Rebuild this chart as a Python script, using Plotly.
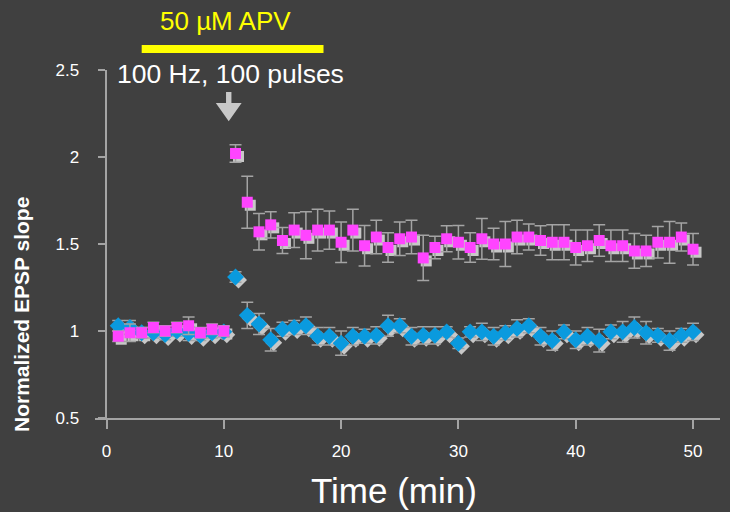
import plotly.graph_objects as go

# ---------------- data ----------------
time_min = [1, 2, 3, 4, 5, 6, 7, 8, 9, 10,
            11, 12, 13, 14, 15, 16, 17, 18, 19, 20,
            21, 22, 23, 24, 25, 26, 27, 28, 29, 30,
            31, 32, 33, 34, 35, 36, 37, 38, 39, 40,
            41, 42, 43, 44, 45, 46, 47, 48, 49, 50]

magenta_vals = [0.97, 0.99, 0.99, 1.02, 1.00, 1.02, 1.03, 0.99, 1.01, 1.00,
                2.02, 1.74, 1.57, 1.61, 1.52, 1.58, 1.55, 1.58, 1.58, 1.51,
                1.58, 1.49, 1.54, 1.48, 1.53, 1.54, 1.42, 1.48, 1.53, 1.51,
                1.48, 1.53, 1.50, 1.50, 1.54, 1.54, 1.52, 1.51, 1.51, 1.48,
                1.49, 1.52, 1.49, 1.49, 1.46, 1.46, 1.51, 1.51, 1.54, 1.47]
magenta_err = [0.03, 0.05, 0.03, 0.03, 0.03, 0.03, 0.05, 0.03, 0.03, 0.03,
               0.05, 0.15, 0.105, 0.075, 0.075, 0.10, 0.135, 0.12, 0.11, 0.117,
               0.12, 0.117, 0.096, 0.085, 0.096, 0.096, 0.13, 0.065, 0.075, 0.096,
               0.085, 0.117, 0.09, 0.13, 0.096, 0.075, 0.085, 0.10, 0.10, 0.10,
               0.09, 0.09, 0.09, 0.09, 0.10, 0.09, 0.09, 0.12, 0.08, 0.09]

blue_vals = [1.03, 1.02, 0.99, 0.99, 0.98, 1.00, 0.985, 0.975, 0.99, 0.995,
             1.31, 1.09, 1.04, 0.95, 1.01, 1.02, 1.03, 0.97, 0.97, 0.93,
             0.97, 0.97, 0.975, 1.03, 1.03, 0.97, 0.975, 0.975, 0.995, 0.93,
             0.995, 0.995, 0.97, 0.99, 1.015, 1.03, 0.97, 0.945, 0.995, 0.95,
             0.97, 0.945, 0.995, 0.995, 1.02, 0.99, 0.975, 0.945, 0.975, 0.995]
blue_err = [0.03, 0.04, 0.03, 0.03, 0.03, 0.03, 0.04, 0.03, 0.03, 0.03,
            0.03, 0.075, 0.06, 0.065, 0.04, 0.04, 0.05, 0.05, 0.05, 0.07,
            0.05, 0.04, 0.05, 0.06, 0.04, 0.05, 0.05, 0.05, 0.03, 0.03,
            0.03, 0.05, 0.05, 0.04, 0.05, 0.04, 0.05, 0.055, 0.04, 0.05,
            0.05, 0.065, 0.04, 0.06, 0.06, 0.065, 0.04, 0.055, 0.04, 0.05]

x_ticks = [0, 10, 20, 30, 40, 50]
y_ticks = [0.5, 1, 1.5, 2, 2.5]
y_tick_text = ["0.5", "1", "1.5", "2", "2.5"]

apv_start, apv_end = 3.0, 18.5      # drug application bar (min)
tetanus_t = 10.42                   # stimulation arrow (min)

# ---------------- layout constants ----------------
W, H = 730, 512
ML, MR, MT, MB = 95, 10, 70, 94
plot_w = W - ML - MR
plot_h = H - MT - MB
x_range = [-0.98, 52.3]
y_range = [0.5, 2.5]
px_per_x = plot_w / (x_range[1] - x_range[0])
px_per_y = plot_h / (y_range[1] - y_range[0])
shadow_dx = 3 / px_per_x
shadow_dy = 3 / px_per_y

BG = "#404040"
GREY = "#a4a4a4"
SHADOW = "#c8c8c8"
MAGENTA = "#ff44ff"
BLUE = "#0a9ade"
FONT = "Liberation Sans Narrow, Liberation Sans, Arial, sans-serif"

fig = go.Figure()

# shadows (shifted axes)
fig.add_trace(go.Scatter(x=time_min, y=blue_vals, mode="markers", xaxis="x2", yaxis="y2",
                         marker=dict(symbol="diamond", size=13, color=SHADOW), hoverinfo="skip",
                         showlegend=False))
fig.add_trace(go.Scatter(x=time_min, y=magenta_vals, mode="markers", xaxis="x2", yaxis="y2",
                         marker=dict(symbol="square", size=11, color=SHADOW), hoverinfo="skip",
                         showlegend=False))
# main series
fig.add_trace(go.Scatter(x=time_min, y=blue_vals, mode="markers", xaxis="x3", yaxis="y3",
                         marker=dict(symbol="diamond", size=13, color=BLUE),
                         error_y=dict(type="data", array=blue_err, color=GREY, thickness=1.5, width=6),
                         showlegend=False))
fig.add_trace(go.Scatter(x=time_min, y=magenta_vals, mode="markers", xaxis="x3", yaxis="y3",
                         marker=dict(symbol="square", size=11, color=MAGENTA),
                         error_y=dict(type="data", array=magenta_err, color=GREY, thickness=1.5, width=6),
                         showlegend=False))

def paper_y(py):
    return (H - MB - py) / plot_h

def paper_x(px):
    return (px - ML) / plot_w

yaxis_pos = (0 - x_range[0]) / (x_range[1] - x_range[0])

fig.update_layout(
    width=W, height=H,
    margin=dict(l=ML, r=MR, t=MT, b=MB),
    paper_bgcolor=BG, plot_bgcolor=BG,
    font=dict(family=FONT, color="white"),
    xaxis=dict(range=x_range, domain=[0, 1], anchor="y", showline=True, linecolor=GREY, linewidth=1.5,
               ticks="outside", ticklen=9, tickcolor=GREY, tickwidth=1.5, tickvals=x_ticks,
               tickfont=dict(size=17, color="white", family=FONT), showgrid=False, zeroline=False,
               ticklabelstandoff=8),
    yaxis=dict(range=y_range, anchor="free", position=yaxis_pos, showline=True, linecolor=GREY,
               linewidth=2, ticks="outside", ticklen=7, tickcolor=GREY, tickwidth=1.5,
               tickvals=y_ticks, ticktext=y_tick_text,
               tickfont=dict(size=17, color="white", family=FONT), showgrid=False, zeroline=False,
               ticklabelstandoff=16),
    xaxis2=dict(range=[x_range[0] - shadow_dx, x_range[1] - shadow_dx], overlaying="x", anchor="y2",
                visible=False),
    yaxis2=dict(range=[y_range[0] + shadow_dy, y_range[1] + shadow_dy], overlaying="y", anchor="x2",
                visible=False),
    xaxis3=dict(range=x_range, overlaying="x", anchor="y3", visible=False),
    yaxis3=dict(range=y_range, overlaying="y", anchor="x3", visible=False),
)

# yellow APV bar
fig.add_shape(type="rect", xref="x", yref="paper", x0=apv_start, x1=apv_end,
              y0=paper_y(53), y1=paper_y(45), fillcolor="#ffff00", line=dict(width=0))

# stimulation arrow
sh = 0.23
hw = 1.1
y_top, y_mid, y_tip = 2.373, 2.31, 2.206
arrow_path = (f"M {tetanus_t - sh},{y_top} L {tetanus_t + sh},{y_top} L {tetanus_t + sh},{y_mid} "
              f"L {tetanus_t + hw},{y_mid} L {tetanus_t},{y_tip} L {tetanus_t - hw},{y_mid} "
              f"L {tetanus_t - sh},{y_mid} Z")
fig.add_shape(type="path", xref="x", yref="y", path=arrow_path, fillcolor=SHADOW, line=dict(width=0))

fig.add_annotation(text="50 µM APV", xref="x", yref="paper", x=(apv_start + apv_end) / 2 - 0.6,
                   y=paper_y(21), showarrow=False, xanchor="center", yanchor="middle",
                   font=dict(size=26, color="#ffff00", family="Liberation Sans, Arial, sans-serif"))
fig.add_annotation(text="100 Hz, 100 pulses", xref="paper", yref="paper", x=paper_x(115),
                   y=paper_y(74), showarrow=False, xanchor="left", yanchor="middle",
                   font=dict(size=26.5, color="white", family="Liberation Sans, Arial, sans-serif"))
fig.add_annotation(text="Time (min)", xref="paper", yref="paper", x=paper_x(394), y=paper_y(491),
                   showarrow=False, xanchor="center", yanchor="middle",
                   font=dict(size=35, color="white", family="Liberation Sans, Arial, sans-serif"))
fig.add_annotation(text="<b>Normalized EPSP slope</b>", xref="paper", yref="paper", x=paper_x(21),
                   y=paper_y(315), showarrow=False, textangle=-90, xanchor="center", yanchor="middle",
                   font=dict(size=21, color="white", family=FONT))

fig.write_html("out.html", config={"displayModeBar": False},
               post_script="document.body.style.margin='0';document.body.style.background='#404040';")
